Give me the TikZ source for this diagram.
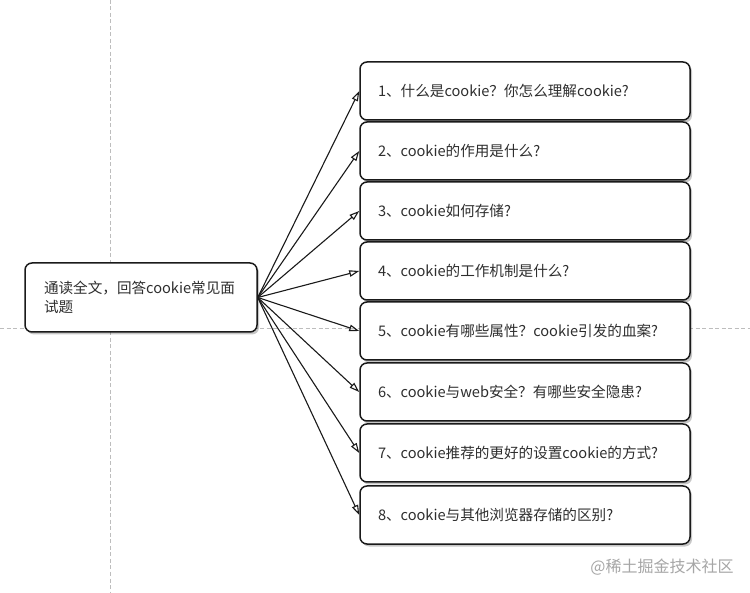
\documentclass[tikz,border=0pt]{standalone}
\usepackage{fontspec}
\setmainfont{Noto Sans CJK SC}
\usetikzlibrary{arrows.meta,shadows}
\definecolor{ink}{HTML}{1A1A1A}
\definecolor{textgray}{HTML}{2E2E2E}
\definecolor{guidegray}{HTML}{BDBDBD}
\definecolor{markgray}{HTML}{A6A6A6}
\definecolor{paper}{HTML}{FFFFFF}
\tikzset{
  linkarr/.style={-{Triangle[open,length=10pt,width=6.5pt]},line width=1.1pt,color=ink},
  guideline/.style={draw=guidegray,line width=0.6pt,dash pattern=on 4pt off 2.5pt},
  rootcard/.style={draw=ink,fill=paper,line width=1.5pt,rounded corners=7pt,align=left,inner xsep=19pt,
    text width=194pt,minimum width=232pt,minimum height=69pt,text=textgray,font=\fontsize{14.6}{18.5}\selectfont,
    drop shadow={shadow xshift=2pt,shadow yshift=-2.5pt,opacity=0.22,fill=black}},
  qcard/.style={draw=ink,fill=paper,line width=1.5pt,rounded corners=7pt,align=left,inner xsep=18pt,
    text width=294pt,minimum width=330pt,minimum height=58pt,text=textgray,font=\fontsize{14.6}{18.5}\selectfont,
    drop shadow={shadow xshift=2pt,shadow yshift=-2.5pt,opacity=0.22,fill=black}},
  watermark/.style={text=markgray,font=\fontsize{16}{20}\selectfont,inner sep=0pt}
}
\begin{document}
\begin{tikzpicture}[x=1pt,y=-1pt]
  \fill[paper] (0,0) rectangle (750,593);
  \useasboundingbox (0,0) rectangle (750,593);
  % guide lines
  \draw[guideline] (110,0) -- (110,593);
  \draw[guideline] (0,328) -- (750,328);
  % root and questions
  \node[rootcard] (root) at (141,297.5) {通读全文，回答cookie常见面\\试题};
  \node[qcard] (q1) at (525,91) {1、什么是cookie？你怎么理解cookie?};
  \node[qcard] (q2) at (525,151) {2、cookie的作用是什么?};
  \node[qcard] (q3) at (525,211) {3、cookie如何存储?};
  \node[qcard] (q4) at (525,271) {4、cookie的工作机制是什么?};
  \node[qcard] (q5) at (525,331) {5、cookie有哪些属性？cookie引发的血案?};
  \node[qcard] (q6) at (525,392) {6、cookie与web安全？有哪些安全隐患?};
  \node[qcard] (q7) at (525,453) {7、cookie推荐的更好的设置cookie的方式?};
  \node[qcard] (q8) at (525,515) {8、cookie与其他浏览器存储的区别?};
  \foreach \q in {q1,q2,q3,q4,q5,q6,q7,q8}
    \draw[linkarr] (root.east) -- (\q.west);
  \node[watermark] (credit) at (662,567) {@稀土掘金技术社区};
\end{tikzpicture}
\end{document}
